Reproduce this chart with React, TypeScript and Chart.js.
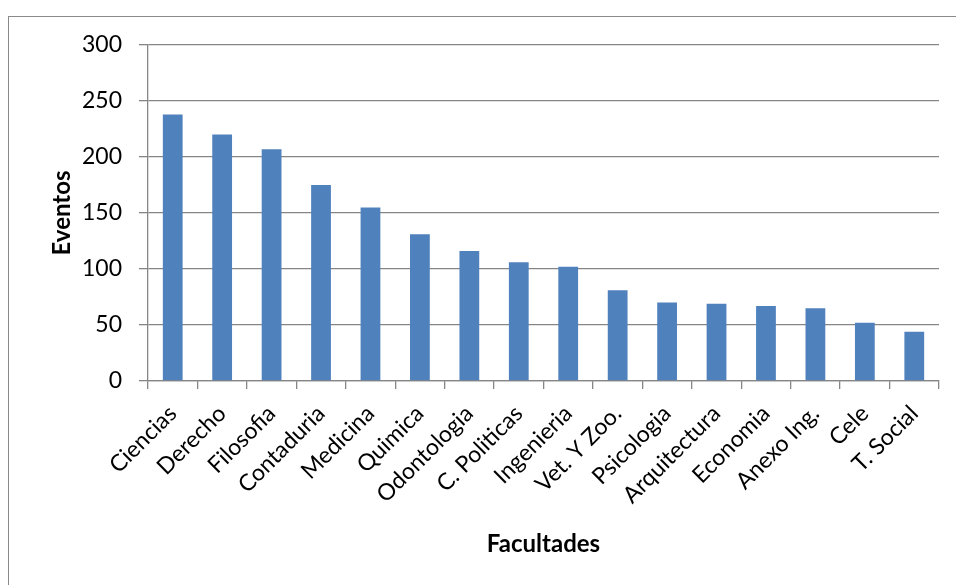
import React, { useEffect, useRef } from "react";
import { Chart, registerables } from "chart.js";

Chart.register(...registerables);

const categories = [
  "Ciencias", "Derecho", "Filosofia", "Contaduria", "Medicina", "Quimica",
  "Odontologia", "C. Politicas", "Ingenieria", "Vet. Y Zoo.", "Psicologia",
  "Arquitectura", "Economia", "Anexo Ing.", "Cele", "T. Social",
];
const eventos = [238, 220, 207, 175, 155, 131, 116, 106, 102, 81, 70, 69, 67, 65, 52, 44];
const yTicks = [0, 50, 100, 150, 200, 250, 300];
const xTitle = "Facultades";
const yTitle = "Eventos";

export default function App() {
  const ref = useRef<HTMLCanvasElement>(null);
  useEffect(() => {
    if (!ref.current) return;
    const grid = "#868686";
    const chart = new Chart(ref.current, {
      type: "bar",
      data: {
        labels: categories,
        datasets: [
          {
            label: yTitle,
            data: eventos,
            backgroundColor: "#4F81BD",
            borderWidth: 0,
            barPercentage: 0.4,
            categoryPercentage: 1,
          },
        ],
      },
      options: {
        responsive: false,
        animation: false,
        layout: { padding: { left: 44, right: 17, top: 45, bottom: 22 } },
        plugins: { legend: { display: false }, tooltip: { enabled: false } },
        scales: {
          x: {
            offset: true,
            grid: {
              display: true,
              offset: true,
              drawOnChartArea: false,
              drawTicks: true,
              tickLength: 8,
              color: grid,
              lineWidth: 1.3,
            },
            border: { display: true, color: grid, width: 1.3 },
            ticks: {
              autoSkip: false,
              maxRotation: 45,
              minRotation: 45,
              padding: 11,
              color: "#000",
              font: { family: "Lato", size: 23 },
            },
            title: {
              display: true,
              text: xTitle,
              color: "#000",
              font: { family: "Lato", size: 24, weight: "bold" },
            },
            afterFit: (s: any) => {
              s.height = 182;
            },
          },
          y: {
            min: 0,
            max: 300,
            afterBuildTicks: (s: any) => {
              s.ticks = yTicks.map((v) => ({ value: v }));
            },
            grid: {
              color: grid,
              lineWidth: 1.3,
              drawTicks: true,
              tickLength: 9,
            },
            border: { display: true, color: grid, width: 1.3 },
            ticks: {
              padding: 17,
              color: "#000",
              font: { family: "Lato", size: 23 },
            },
            title: {
              display: true,
              text: yTitle,
              color: "#000",
              font: { family: "Lato", size: 24, weight: "bold" },
            },
            afterFit: (s: any) => {
              s.width = 104;
            },
          },
        },
      },
    });
    return () => chart.destroy();
  }, []);

  return (
    <div style={{ position: "fixed", left: 0, top: 0, width: 956, height: 585, overflow: "hidden", background: "#fff" }}>
      <div
        style={{
          position: "absolute",
          left: 8,
          top: 16,
          width: 1000,
          height: 700,
          borderLeft: "1px solid #8a8a8a",
          borderTop: "1px solid #8a8a8a",
        }}
      />
      <canvas
        ref={ref}
        width={956}
        height={585}
        style={{ position: "absolute", left: 0, top: 0, width: 956, height: 585 }}
      />
    </div>
  );
}
